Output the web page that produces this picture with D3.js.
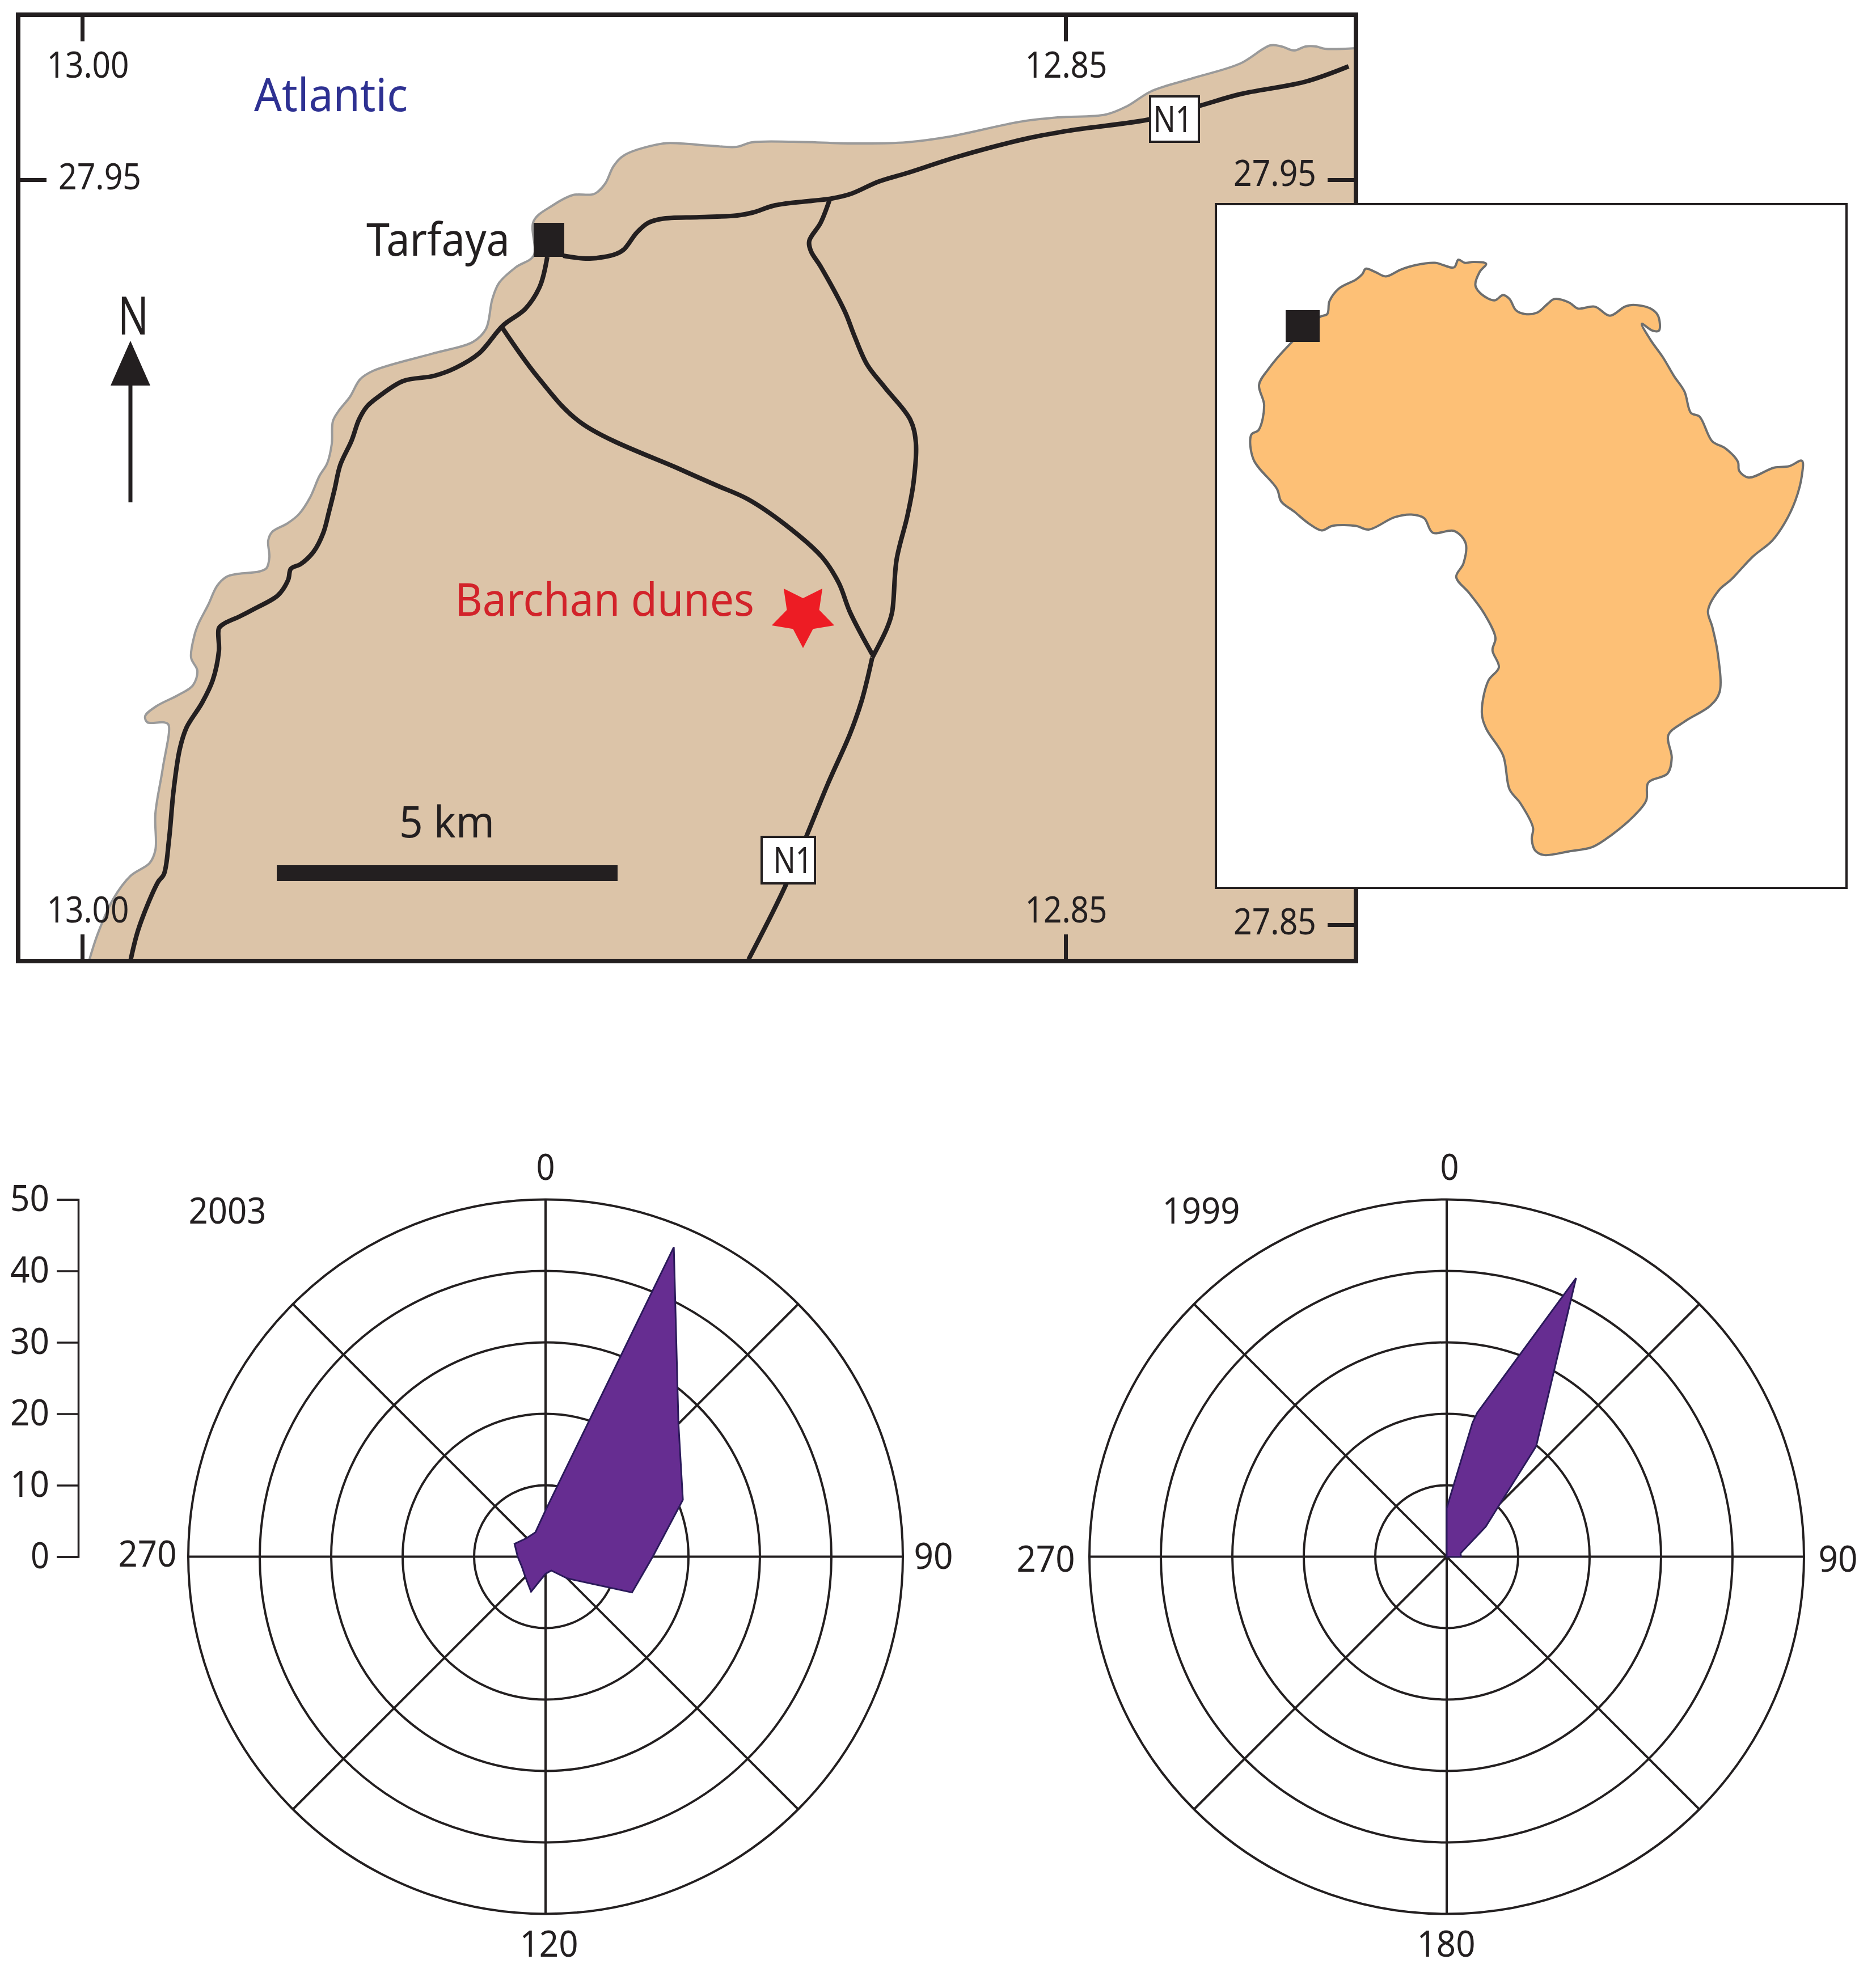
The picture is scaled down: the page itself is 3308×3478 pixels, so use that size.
<!DOCTYPE html>
<html>
<head>
<meta charset="utf-8">
<title>Tarfaya barchan dunes</title>
<script src="https://cdn.jsdelivr.net/npm/d3@7"></script>
<style>
  body { margin: 0; background: #fff; }
  text { font-family: "Noto Sans", sans-serif; fill: #231f20; }
</style>
</head>
<body>
<svg id="chart"></svg>
<script>
// wind rose readings: direction in degrees, frequency in percent
const rings = [10, 20, 30, 40, 50];
const spokes = [0, 45, 90, 135, 180, 225, 270, 315];
const axis_ticks = [0, 10, 20, 30, 40, 50];

const directions_2003 = [0, 22.5, 45, 67.5, 90, 112.5, 135, 157.5, 180, 202.5, 225, 247.5, 270, 292.5, 315, 337.5];
const values_2003 = [6.5, 46.9, 26.3, 20.8, 15, 13.1, 4.3, 2.1, 2.4, 5.3, 4, 3.6, 3.9, 4.7, 3.7, 3.7];

const directions_1999 = [0, 0, 10.9, 12, 24.9, 39, 44.5, 52.4, 76, 90];
const values_1999 = [0, 6.8, 19.1, 20.6, 43, 19.9, 11.1, 6.9, 2, 2];

// map grid readings, one unit is 1/12 km
const coast = [[15.7,169.5],[17.2,164.8],[20,158.5],[23,154.5],[26.4,152.2],[27.4,149.9],[27.4,143.5],[28.7,135.5],[29.7,127.8],[28.9,127.4],[26,127.4],[25.6,126.3],[27.5,124.6],[31.4,122.6],[34,120.9],[34.8,118.3],[33.7,116],[34.3,112],[35,110],[36.7,106.7],[38.3,103.3],[40,101.7],[42,101.2],[45.7,100.8],[47,100.2],[47.5,98.3],[47.3,95.3],[48,93.8],[50.7,92.3],[52.7,90.7],[54.7,87.7],[56.3,84],[57.7,81.7],[58.5,78.3],[58.7,74.3],[59.7,72.5],[61.7,70],[63.5,66.9],[65.8,65.4],[76.5,62.3],[83.4,60.3],[85.7,58],[86.8,52.8],[88,49.9],[91,47.1],[94.1,45.1],[94.1,39],[97.5,36.2],[101,34.4],[104.8,34.2],[106.7,32.4],[108.2,29.3],[110.2,27.3],[117,25.3],[120,25.3],[125.4,25.7],[129.9,25.9],[132.6,25.1],[139.9,25],[150.6,25.3],[159.8,25.1],[167.4,24.1],[179.7,21.5],[186.6,20.7],[195,20.2],[198.8,18.7],[203,16.1],[210.3,13.8],[218.7,11.2],[224,8],[226,8.2],[228.2,8.9],[230.2,8.2],[232.1,8.2],[233.6,8.6],[239,8.5]];
const road_coast = [[23,169.5],[24.5,163.6],[27.9,155.5],[28.9,154.2],[29.8,148.1],[30.6,139.5],[31.7,132.1],[32.9,128.3],[35.6,124],[37.5,120],[38.6,114.8],[38.6,110.8],[39.5,110],[42.3,108.7],[45,107.3],[49,105],[50.8,102.3],[51.3,100.3],[53,99.5],[55.3,97.3],[57,94],[58,90.3],[59,86.3],[60,82],[62,77.7],[63.3,74],[64.7,71.7],[66.7,70],[71.1,67.2],[76.5,66.3],[80.3,64.9],[84.5,62.3],[88.7,57.4],[92.6,54.5],[95.2,50.5],[96.5,45.3]];
const road_north = [[99.3,45.1],[104,45.6],[108.6,44.8],[110,44],[112.3,41],[114.3,39.3],[116.7,38.6],[123.3,38.3],[130,38],[132.7,37.5],[136.7,36.2],[143.3,35.4],[146.7,35],[150,34.2],[155,32],[160,30.5],[169,27.6],[181.2,24.4],[188.8,23],[203,21],[211.4,18.7],[218.7,16.6],[230.2,14.4],[237.8,11.7]];
const road_inland = [[146.3,35.2],[144.7,39.3],[142.7,42.5],[143,44.3],[144.7,47],[149,55],[150.6,59.1],[152.9,64.3],[156,68.3],[160.5,74],[161.5,78.1],[161.1,85],[160,91],[158.1,98.7],[157.3,108],[156.4,110.8],[153.8,116]];
const road_south = [[153.8,116],[152,123.4],[149.9,129.4],[146,138.2],[142.4,147],[138.6,156],[136.1,161.2],[132,169.2]];
const road_dunes = [[88.5,57.7],[94.9,66.6],[102.5,74.6],[120,82.8],[126.1,85.5],[131.8,88],[138.3,92.4],[144.9,98.2],[147.9,102.8],[149.9,108],[153.8,115.4]];

// africa outline, read in inset units
const africa = [[275,275],[293,268],[298,240],[320,212],[360,192],[375,180],[383,168],[405,175],[430,185],[465,170],[500,160],[545,155],[590,165],[600,148],[615,155],[635,153],[665,157],[650,175],[640,205],[655,225],[685,238],[705,226],[720,235],[735,260],[755,268],[785,265],[810,245],[825,235],[860,243],[880,256],[920,252],[955,272],[990,252],[1010,248],[1050,256],[1068,272],[1070,305],[1055,305],[1030,290],[1050,325],[1080,365],[1105,405],[1130,440],[1145,487],[1165,495],[1195,550],[1225,565],[1255,595],[1258,615],[1280,630],[1340,608],[1375,605],[1405,593],[1405,625],[1390,680],[1365,730],[1335,770],[1290,805],[1240,855],[1210,880],[1185,925],[1195,960],[1208,1020],[1212,1105],[1190,1135],[1130,1170],[1092,1200],[1100,1250],[1090,1285],[1045,1305],[1040,1345],[1010,1380],[960,1420],[915,1447],[860,1457],[800,1465],[780,1455],[772,1430],[775,1405],[745,1350],[720,1320],[705,1245],[665,1185],[655,1150],[670,1080],[695,1050],[680,1012],[687,985],[660,930],[625,885],[595,850],[612,820],[617,775],[590,748],[540,752],[520,720],[490,712],[450,718],[390,745],[360,737],[305,737],[280,747],[250,732],[215,705],[185,683],[175,655],[120,590],[115,535],[132,525],[145,470],[133,425],[155,390],[200,340]];

const lon_ticks = [13.00, 12.85];
const lat_ticks = [27.95, 27.85];

const ink = '#231f20';
const svg = d3.select('#chart').attr('width', 3308).attr('height', 3478);

const grid_x = d3.scaleLinear().domain([0, 100]).range([0, 1000]);
const grid_y = d3.scaleLinear().domain([0, 100]).range([0, 1000]);
const lon_x = d3.scaleLinear().domain([13.00, 12.85]).range([145, 1879]);
const lat_y = d3.scaleLinear().domain([27.95, 27.85]).range([317, 1631]);
const inset_x = d3.scaleLinear().domain([0, 1568]).range([2120, 3300]);
const inset_y = d3.scaleLinear().domain([0, 1568]).range([340, 1590]);

const frame = {left: 32, top: 26, right: 2391, bottom: 1695};

const grid_line = d3.line()
    .x(d => grid_x(d[0]))
    .y(d => grid_y(d[1]))
    .curve(d3.curveCatmullRom.alpha(0.5));

function label(parent, str, x, y, size, anchor, len) {
    return parent.append('text')
        .attr('x', x).attr('y', y)
        .attr('font-size', size)
        .attr('text-anchor', anchor)
        .attr('textLength', len)
        .attr('lengthAdjust', 'spacingAndGlyphs')
        .text(str);
}

const map = svg.append('g');

// land, coast side first and then round the frame corners
map.append('path')
    .attr('d', grid_line(coast) + 'L' + frame.right + ',' + frame.bottom + 'Z')
    .attr('fill', '#dcc4a8')
    .attr('stroke', 'none');
map.append('path')
    .attr('d', grid_line(coast))
    .attr('fill', 'none')
    .attr('stroke', '#9a9a9a')
    .attr('stroke-width', 4);

[road_coast, road_north, road_inland, road_south, road_dunes].forEach(function(road) {
    map.append('path')
        .attr('d', grid_line(road))
        .attr('fill', 'none')
        .attr('stroke', ink)
        .attr('stroke-width', 8);
});

function road_sign(x, y, w, h, text_x) {
    map.append('rect').attr('x', x).attr('y', y).attr('width', w).attr('height', h)
        .attr('fill', '#fff').attr('stroke', ink).attr('stroke-width', 4);
    label(map, 'N1', text_x, y + h / 2 + 23, 63, 'middle', 69);
}
road_sign(2028, 170, 86, 80, 2068);
road_sign(1343, 1476, 94, 82, 1398);

// Tarfaya
map.append('rect').attr('x', 941).attr('y', 393).attr('width', 54).attr('height', 60).attr('fill', ink);
label(map, 'Tarfaya', 646, 451, 80, 'start', 253);

label(map, 'Atlantic', 448, 196, 80, 'start', 271).style('fill', '#2e3192');

label(map, 'Barchan dunes', 802, 1086, 80, 'start', 528).style('fill', '#d2232a');
const star_radii = [58, 30, 58, 30, 58, 30, 58, 30, 58, 30];
map.append('path')
    .datum(star_radii)
    .attr('d', d3.lineRadial()
        .angle((d, i) => Math.PI + i * Math.PI / 5)
        .radius(d => d)
        .curve(d3.curveLinearClosed))
    .attr('transform', 'translate(1416,1085)')
    .attr('fill', '#ed1c24');

// north arrow
map.append('line').attr('x1', 230).attr('x2', 230).attr('y1', 676).attr('y2', 886)
    .attr('stroke', ink).attr('stroke-width', 7);
map.append('path').attr('d', 'M230,601L265,680L195,680Z').attr('fill', ink);
label(map, 'N', 235, 590, 94, 'middle', 54);

// scale bar
map.append('rect').attr('x', 488).attr('y', 1526).attr('width', 601).attr('height', 28).attr('fill', ink);
label(map, '5 km', 788, 1477, 76, 'middle', 168);

map.append('rect')
    .attr('x', frame.left).attr('y', frame.top)
    .attr('width', frame.right - frame.left).attr('height', frame.bottom - frame.top)
    .attr('fill', 'none').attr('stroke', ink).attr('stroke-width', 8);

function frame_axis(axis, translate) {
    const g = map.append('g')
        .attr('transform', 'translate(' + translate + ')')
        .call(axis.tickFormat(''));
    g.select('.domain').remove();
    g.selectAll('line').attr('stroke', ink).attr('stroke-width', 7);
}
frame_axis(d3.axisTop(lon_x).tickValues(lon_ticks).tickSize(-47), '0,' + frame.top);
frame_axis(d3.axisBottom(lon_x).tickValues(lon_ticks).tickSize(-47), '0,' + frame.bottom);
frame_axis(d3.axisLeft(lat_y).tickValues([lat_ticks[0]]).tickSize(-50), frame.left + ',0');
frame_axis(d3.axisRight(lat_y).tickValues(lat_ticks).tickSize(-50), frame.right + ',0');

lon_ticks.forEach(function(lon) {
    [137, 1627].forEach(function(baseline) {
        label(map, lon.toFixed(2), lon_x(lon) + (lon == 13 ? 10 : 1), baseline, 63, 'middle', 145);
    });
});
label(map, '27.95', 103, lat_y(27.95) + 17, 63, 'start', 146);
label(map, '27.95', 2321, lat_y(27.95) + 11, 63, 'end', 146);
label(map, '27.85', 2321, lat_y(27.85) + 17, 63, 'end', 146);

// africa inset
const inset = svg.append('g');
inset.append('rect').attr('x', 2144).attr('y', 360).attr('width', 1112).attr('height', 1206)
    .attr('fill', '#fff').attr('stroke', ink).attr('stroke-width', 4);
inset.append('path')
    .datum(africa)
    .attr('d', d3.line().x(d => inset_x(d[0])).y(d => inset_y(d[1])).curve(d3.curveCatmullRomClosed.alpha(0.5)))
    .attr('fill', '#fdc076')
    .attr('stroke', '#6d6e6e')
    .attr('stroke-width', 4);
inset.append('rect').attr('x', 2267).attr('y', 547).attr('width', 60).attr('height', 56).attr('fill', ink);

// wind roses
const r_scale = d3.scaleLinear().domain([0, 50]).range([0, 630]);
const rose_y = 2745.5;

function draw_rose(cx, directions, values, labels) {
    const g = svg.append('g').attr('transform', 'translate(' + cx + ',' + rose_y + ')');

    g.selectAll('circle').data(rings).enter().append('circle')
        .attr('r', d => r_scale(d))
        .attr('fill', 'none').attr('stroke', ink).attr('stroke-width', 4);

    g.selectAll('line').data(spokes).enter().append('line')
        .attr('x2', d => d3.pointRadial(d * Math.PI / 180, r_scale(50))[0])
        .attr('y2', d => d3.pointRadial(d * Math.PI / 180, r_scale(50))[1])
        .attr('stroke', ink).attr('stroke-width', 4);

    g.append('path')
        .datum(values)
        .attr('d', d3.lineRadial()
            .angle((d, i) => directions[i] * Math.PI / 180)
            .radius(d => r_scale(d))
            .curve(d3.curveLinearClosed))
        .attr('fill', '#662d91')
        .attr('stroke', '#2b1a5a')
        .attr('stroke-width', 3);

    labels.forEach(function(l) {
        label(svg, l[0], l[1], l[2] + 23, 64, 'middle', l[3]);
    });
}

draw_rose(962, directions_2003, values_2003, [
    ['0', 962, 2058, 33], ['90', 1646, 2744, 69], ['270', 260, 2740, 103], ['120', 968, 3428, 103], ['2003', 401, 2135, 137]]);
draw_rose(2551, directions_1999, values_1999, [
    ['0', 2556, 2058, 33], ['90', 3241, 2749, 69], ['270', 1844, 2749, 103], ['180', 2550, 3428, 103], ['1999', 2118, 2135, 137]]);

// frequency axis next to the 2003 rose
const axis_y = d3.scaleLinear().domain([0, 50]).range([rose_y, rose_y - 630]);
const freq_axis = svg.append('g')
    .attr('transform', 'translate(138,0)')
    .call(d3.axisLeft(axis_y).tickValues(axis_ticks).tickSize(38).tickPadding(13));
freq_axis.selectAll('line, path').attr('stroke', ink).attr('stroke-width', 3.5);
freq_axis.selectAll('text')
    .attr('font-size', 64)
    .attr('font-family', '"Noto Sans", sans-serif')
    .attr('textLength', d => d == 0 ? 33 : 69)
    .attr('lengthAdjust', 'spacingAndGlyphs')
    .style('fill', ink);
</script>
</body>
</html>
